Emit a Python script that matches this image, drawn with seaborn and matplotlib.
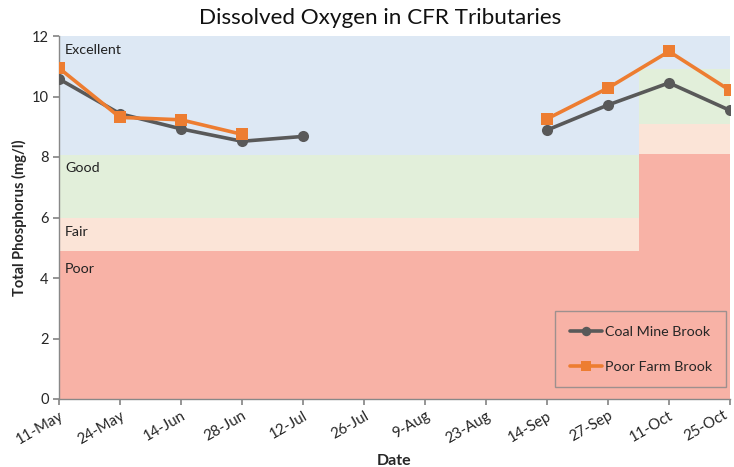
import numpy as np
import pandas as pd
import matplotlib
matplotlib.use("Agg")
import matplotlib.pyplot as plt
import seaborn as sns

# ---- data ----
dates = ["11-May", "24-May", "14-Jun", "28-Jun", "12-Jul", "26-Jul",
         "9-Aug", "23-Aug", "14-Sep", "27-Sep", "11-Oct", "25-Oct"]
coal_mine = [10.58, 9.43, 8.93, 8.52, 8.68, np.nan, np.nan, np.nan,
             8.89, 9.72, 10.45, 9.54]
poor_farm = [10.94, 9.31, 9.23, 8.75, np.nan, np.nan, np.nan, np.nan,
             9.26, 10.28, 11.49, 10.20]

# rating band upper limits per date (stacked bands)
band_names = ["Poor", "Fair", "Good", "Excellent"]
poor_top = [4.9] * 10 + [8.1] * 2
fair_top = [6.0] * 10 + [9.1] * 2
good_top = [8.05] * 10 + [10.9] * 2
exc_top = [12.0] * 12
band_colors = ["#F8B2A6", "#FBE4D7", "#E2EFDA", "#DDE8F4"]

series_names = ["Coal Mine Brook", "Poor Farm Brook"]
series_colors = {"Coal Mine Brook": "#595959", "Poor Farm Brook": "#ED7D31"}
series_markers = {"Coal Mine Brook": "o", "Poor Farm Brook": "s"}

# ---- build long data with segments (gaps break lines) ----
rows = []
for name, vals in zip(series_names, [coal_mine, poor_farm]):
    seg = 0
    prev_nan = True
    for i, v in enumerate(vals):
        if np.isnan(v):
            prev_nan = True
            continue
        if prev_nan:
            seg += 1
            prev_nan = False
        rows.append({"pos": i, "value": v, "site": name, "seg": f"{name}-{seg}"})
df = pd.DataFrame(rows)

sns.set_theme(style="white")
plt.rcParams["font.family"] = ["Lato", "DejaVu Sans"]

fig = plt.figure(figsize=(7.34, 4.67), dpi=100)
ax = fig.add_axes([59 / 734, 1 - 399 / 467, (730 - 59) / 734, (399 - 36) / 467])

# ---- background bands as stacked bars ----
x = np.arange(len(dates))
tops = [poor_top, fair_top, good_top, exc_top]
bottom = np.zeros(len(dates))
for name, top, col in zip(band_names, tops, band_colors):
    top = np.array(top)
    ax.bar(x, top - bottom, bottom=bottom, width=1.0, color=col,
           linewidth=0, zorder=0)
    bottom = top

# band labels
for name, y in [("Excellent", 11.55), ("Good", 7.62), ("Fair", 5.52), ("Poor", 4.3)]:
    ax.text(0.1, y, name, fontsize=10.3, color="#222222", va="center", ha="left")

# ---- lines ----
sns.lineplot(data=df, x="pos", y="value", hue="site", style="site",
             units="seg", estimator=None, palette=series_colors,
             markers=series_markers, dashes=False, linewidth=2.6,
             markersize=8, markeredgewidth=0, ax=ax, zorder=3)

ax.set_xlim(0, len(dates) - 1)
ax.set_ylim(0, 12)
ax.set_xticks(x)
tick_fs = 10.8
ax.set_xticklabels(dates[:-1] + [""], rotation=30, ha="right",
                   rotation_mode="anchor", fontsize=tick_fs)
# last label drawn slightly nudged left so it stays inside the figure
ax.annotate(dates[-1], xy=(x[-1], 0), xycoords=("data", "axes fraction"),
            xytext=(-5, -6.6), textcoords="offset points", rotation=30,
            ha="right", va="top", rotation_mode="anchor", fontsize=tick_fs,
            color=ax.get_xticklabels()[0].get_color(), annotation_clip=False)
ax.set_yticks(np.arange(0, 13, 2))
ax.tick_params(axis="y", labelsize=10.5, length=4, color="#888888", direction="out", left=True)
ax.tick_params(axis="x", length=4, color="#888888", direction="out", bottom=True, pad=3)
for s in ["top", "right"]:
    ax.spines[s].set_visible(False)
for s in ["left", "bottom"]:
    ax.spines[s].set_color("#888888")
    ax.spines[s].set_linewidth(1)

ax.set_xlabel("Date", fontsize=11.5, fontweight="bold", labelpad=5)
ax.set_ylabel("Total Phosphorus (mg/l)", fontsize=10.5, fontweight="bold", labelpad=3)

fig.text(380 / 734, 1 - 18 / 467, "Dissolved Oxygen in CFR Tributaries",
         fontsize=16.2, ha="center", va="center", color="#111111")

leg = ax.legend(loc="lower right", frameon=True, fontsize=10.3,
                labelspacing=1.6, handlelength=2.3, handletextpad=0.15,
                borderpad=1.0, borderaxespad=0, fancybox=False, markerscale=0.85)
leg.set_bbox_to_anchor((726 / 734, 1 - 387 / 467), transform=fig.transFigure)
leg.get_frame().set_facecolor("none")
leg.get_frame().set_edgecolor("#888888")
leg.get_frame().set_linewidth(1)

fig.savefig("out.png", dpi=100)
